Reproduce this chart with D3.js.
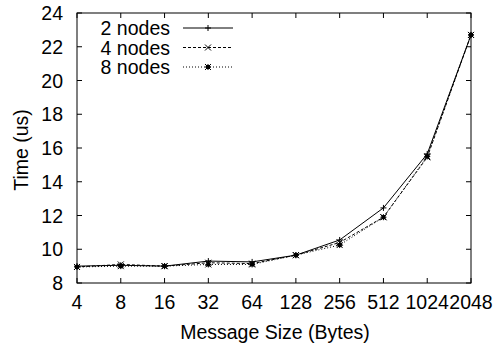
<!DOCTYPE html>
<html lang="en">
<head>
<meta charset="UTF-8">
<title>Message size vs time</title>
<script src="https://d3js.org/d3.v7.min.js"></script>
<style>
    body { margin: 0; background: #fff; }
    svg text { font-family: "Liberation Sans", Arial, sans-serif; fill: #000; }
</style>
</head>
<body>
<div id="chart"></div>
<script>
// data
const sizes = ["4", "8", "16", "32", "64", "128", "256", "512", "1024", "2048"];
const nodes2 = [9.0, 9.05, 9.0, 9.3, 9.25, 9.65, 10.55, 12.45, 15.65, 22.7];
const nodes4 = [8.95, 9.1, 9.0, 9.2, 9.15, 9.65, 10.4, 11.9, 15.45, 22.7];
const nodes8 = [8.95, 9.0, 9.0, 9.1, 9.1, 9.65, 10.25, 11.9, 15.5, 22.7];
const yTicks = [8, 10, 12, 14, 16, 18, 20, 22, 24];

const series = [
    { name: "2 nodes", values: nodes2, dash: null, mark: "plus" },
    { name: "4 nodes", values: nodes4, dash: "3,2", mark: "cross" },
    { name: "8 nodes", values: nodes8, dash: "1,2", mark: "star" }
];

const width = 494, height = 343;
const margin = { top: 13, right: 23, bottom: 60, left: 77 };
const w = width - margin.left - margin.right;
const h = height - margin.top - margin.bottom;
const fs = "19.5px";

const svg = d3.select("#chart").append("svg")
    .attr("width", width)
    .attr("height", height);

const g = svg.append("g")
    .attr("transform", `translate(${margin.left},${margin.top})`);

const x = d3.scalePoint().domain(sizes).range([0, w]);
const y = d3.scaleLinear().domain([8, 24]).range([h, 0]);

// frame
g.append("rect")
    .attr("width", w).attr("height", h)
    .attr("fill", "none").attr("stroke", "#000").attr("stroke-width", 1);

// ticks inward on all four sides (gnuplot style)
const tl = 5;
g.selectAll(".xt").data(sizes).enter().append("path")
    .attr("d", d => `M${x(d)},${h}v${-tl}M${x(d)},0v${tl}`)
    .attr("stroke", "#000");
g.selectAll(".yt").data(yTicks).enter().append("path")
    .attr("d", d => `M0,${y(d)}h${tl}M${w},${y(d)}h${-tl}`)
    .attr("stroke", "#000");

g.selectAll(".xl").data(sizes).enter().append("text")
    .attr("x", d => x(d)).attr("y", h + 26)
    .attr("text-anchor", "middle")
    .style("font-size", fs)
    .text(d => d);
g.selectAll(".yl").data(yTicks).enter().append("text")
    .attr("x", -14).attr("y", d => y(d) + 7)
    .attr("text-anchor", "end")
    .style("font-size", fs)
    .text(d => d);

// axis titles
svg.append("text")
    .attr("x", 275).attr("y", 339)
    .attr("text-anchor", "middle")
    .style("font-size", fs)
    .text("Message Size (Bytes)");
svg.append("text")
    .attr("transform", `translate(28,150) rotate(-90)`)
    .attr("text-anchor", "middle")
    .style("font-size", fs)
    .text("Time (us)");

function drawMark(sel, kind) {
    const s = 3;
    if (kind === "plus") {
        sel.append("path").attr("d", `M${-s},0h${2 * s}M0,${-s}v${2 * s}`);
    } else if (kind === "cross") {
        sel.append("path").attr("d", `M${-s},${-s}l${2 * s},${2 * s}M${-s},${s}l${2 * s},${-2 * s}`);
    } else {
        sel.append("path").attr("d", `M${-s},0h${2 * s}M0,${-s}v${2 * s}M${-s},${-s}l${2 * s},${2 * s}M${-s},${s}l${2 * s},${-2 * s}`);
        sel.append("rect").attr("x", -1.5).attr("y", -1.5).attr("width", 3).attr("height", 3).attr("fill", "#000");
    }
}

const line = d3.line().x((d, i) => x(sizes[i])).y(d => y(d));

series.forEach(s => {
    g.append("path")
        .datum(s.values)
        .attr("d", line)
        .attr("fill", "none")
        .attr("stroke", "#000")
        .attr("stroke-width", 1)
        .attr("stroke-dasharray", s.dash);
    s.values.forEach((v, i) => {
        const m = g.append("g")
            .attr("transform", `translate(${x(sizes[i])},${y(v)})`)
            .attr("stroke", "#000").attr("stroke-width", 1);
        drawMark(m, s.mark);
    });
});

// legend
const leg = svg.append("g");
series.forEach((s, i) => {
    const ly = 28 + i * 19.5;
    leg.append("text")
        .attr("x", 170).attr("y", ly + 7)
        .attr("text-anchor", "end")
        .style("font-size", fs)
        .text(s.name);
    leg.append("line")
        .attr("x1", 183).attr("x2", 233)
        .attr("y1", ly).attr("y2", ly)
        .attr("stroke", "#000")
        .attr("stroke-dasharray", s.dash);
    const m = leg.append("g")
        .attr("transform", `translate(208,${ly})`)
        .attr("stroke", "#000");
    drawMark(m, s.mark);
});
</script>
</body>
</html>
